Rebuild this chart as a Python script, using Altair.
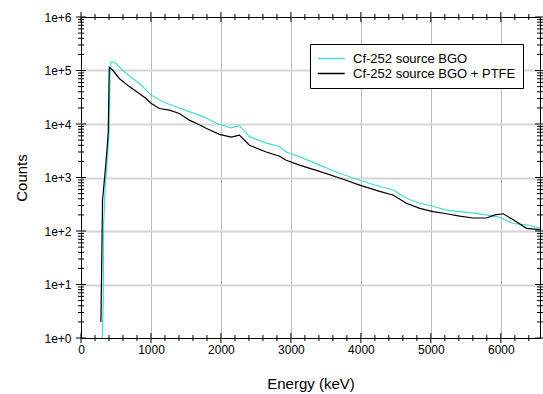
import altair as alt
import pandas as pd

# ---- data ----
bgo_energy = [305, 318, 322, 346, 379, 404, 415, 425, 440, 500, 643, 833, 905, 1000,
              1167, 1358, 1549, 1682, 1788, 1978, 2146, 2265, 2408, 2647, 2837, 2933,
              3123, 3409, 3696, 3982, 4268, 4459, 4651, 4841, 5032, 5223, 5413, 5604,
              5796, 5986, 6177, 6368, 6583]
bgo_counts = [1, 5, 120, 680, 2400, 8700, 80000, 140000, 147000, 135000, 89000, 57000,
              47000, 35000, 26000, 21000, 17000, 14800, 12900, 9800, 8500, 9300, 5800,
              4400, 3800, 3000, 2450, 1700, 1200, 890, 680, 590, 410, 330, 290, 245, 230,
              215, 200, 180, 138, 130, 112]

ptfe_energy = [285, 308, 356, 389, 404, 451, 547, 690, 833, 929, 1000, 1120, 1263, 1406,
               1549, 1682, 1788, 1978, 2146, 2265, 2408, 2647, 2837, 2933, 3123, 3409,
               3696, 3982, 4268, 4459, 4651, 4841, 5032, 5223, 5413, 5604, 5796, 5914,
               6033, 6177, 6368, 6583]
ptfe_counts = [2, 380, 1850, 6700, 115000, 102000, 71000, 50000, 37000, 30000, 24500,
               19500, 18200, 15700, 11800, 9800, 8300, 6400, 5700, 6200, 4000, 3000, 2500,
               2100, 1700, 1300, 980, 720, 550, 470, 330, 265, 230, 210, 190, 175, 175,
               200, 210, 162, 112, 105]

series_names = ["Cf-252 source BGO", "Cf-252 source BGO + PTFE"]
series_colors = ["#40E0D0", "#000000"]

x_major = [0, 1000, 2000, 3000, 4000, 5000, 6000]
x_minor = [v for v in range(200, 6600, 200) if v % 1000 != 0]
y_major = [1, 10, 100, 1000, 10000, 100000, 1000000]
y_minor = [m * 10 ** d for d in range(6) for m in range(2, 10)]

df = pd.concat([
    pd.DataFrame({"energy": bgo_energy, "counts": bgo_counts, "series": series_names[0]}),
    pd.DataFrame({"energy": ptfe_energy, "counts": ptfe_counts, "series": series_names[1]}),
])

FONT = "Liberation Sans"
xs = alt.Scale(domain=[0, 6560], nice=False, zero=False)
ys = alt.Scale(type="log", domain=[1, 1000000], nice=False)

W, H = 459, 321

# grid layer (separate axes, no ticks / labels)
grid = alt.Chart(df).mark_line(opacity=0).encode(
    x=alt.X("energy:Q", scale=xs, axis=alt.Axis(
        orient="bottom", values=x_major[1:], grid=True, gridColor="#bdbdbd", gridWidth=1,
        ticks=False, labels=False, domain=False, title=None)),
    y=alt.Y("counts:Q", scale=ys, axis=alt.Axis(
        orient="left", values=y_major[1:-1], grid=True, gridColor="#d6d6d6", gridWidth=2,
        ticks=False, labels=False, domain=False, title=None)),
    detail="series:N",
)

# data lines + labelled axes
lines = alt.Chart(df).mark_line(strokeWidth=1.2, clip=True).encode(
    x=alt.X("energy:Q", scale=xs, axis=alt.Axis(
        orient="bottom", values=x_major, format="d", ticks=False, labelFlush=False,
        domain=False, grid=False, labelPadding=6,
        labelFontSize=12, labelColor="#000000",
        title="Energy (keV)", titleFontSize=15, titleFontWeight="normal",
        titleColor="#000000", titleX=W / 2, titleY=45, titleBaseline="middle",
        titleAnchor="middle")),
    y=alt.Y("counts:Q", scale=ys, axis=alt.Axis(
        orient="left", values=y_major, format=".0e", ticks=False, labelFlush=False,
        domain=False, grid=False, labelPadding=10,
        labelFontSize=12, labelColor="#000000",
        title="Counts", titleFontSize=15, titleFontWeight="normal",
        titleColor="#000000", titleX=-60, titleY=H / 2, titleAngle=270,
        titleBaseline="middle", titleAlign="center")),
    color=alt.Color("series:N", scale=alt.Scale(domain=series_names, range=series_colors),
                    legend=alt.Legend(title=None, orient="none", legendX=229, legendY=27,
                                      symbolType="M-1,0H3", symbolStrokeWidth=1.5,
                                      symbolSize=182, labelFontSize=13, labelFont=FONT,
                                      labelColor="#000000", strokeColor="#000000",
                                      fillColor="#ffffff", padding=7, rowPadding=-6,
                                      labelOffset=21, labelLimit=0)),
)


def x_ticks(values, edge, length):
    return alt.Chart(pd.DataFrame({"v": values})).mark_tick(
        orient="vertical", thickness=1, opacity=1, color="#000000"
    ).encode(x=alt.X("v:Q", scale=xs, axis=None), y=alt.value(edge), size=alt.value(length))


def y_ticks(values, edge, length):
    return alt.Chart(pd.DataFrame({"v": values})).mark_tick(
        orient="horizontal", thickness=1, opacity=1, color="#000000"
    ).encode(y=alt.Y("v:Q", scale=ys, axis=None), x=alt.value(edge), size=alt.value(length))


ticks = [
    x_ticks(x_major, H, 10), x_ticks(x_minor, H, 6),
    x_ticks(x_major, 0, 10), x_ticks(x_minor, 0, 6),
    y_ticks(y_major, 0, 10), y_ticks(y_minor, 0, 6),
    y_ticks(y_major, W, 10), y_ticks(y_minor, W, 6),
]

chart = alt.layer(grid, lines, *ticks).resolve_axis(
    x="independent", y="independent"
).properties(
    width=W, height=H,
    autosize=alt.AutoSizeParams(type="none"),
    padding={"left": 81, "top": 17, "right": 3, "bottom": 56},
).configure(font=FONT).configure_view(stroke="#000000", strokeWidth=1).configure_axis(
    labelFont=FONT, titleFont=FONT
)

chart.save("out.html", embed_options={"renderer": "svg", "actions": False})
